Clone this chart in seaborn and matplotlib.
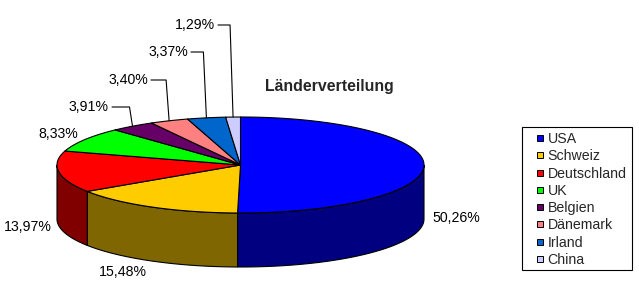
import numpy as np
import matplotlib
matplotlib.use("Agg")
import matplotlib.pyplot as plt
from matplotlib.patches import Polygon, Rectangle
from matplotlib.lines import Line2D
import seaborn as sns

# ---- data ----
countries = ["USA", "Schweiz", "Deutschland", "UK", "Belgien", "Dänemark", "Irland", "China"]
shares = [50.26, 15.48, 13.97, 8.33, 3.91, 3.40, 3.37, 1.29]
top_colors = ["#0000FF", "#FFCC00", "#FF0000", "#00FF00", "#660066", "#FF8080", "#0066CC", "#CCCCFF"]
side_colors = ["#000080", "#806600", "#800000", "#008000", "#330033", "#804040", "#003366", "#666680"]
title = "Länderverteilung"

sns.set_theme(style="white")
plt.rcParams["font.family"] = ["Liberation Sans", "DejaVu Sans"]

# ---- layout (pixel space) ----
W, H = 639, 302
cx, cy, a, b, depth = 240.5, 165.0, 183.5, 48.0, 54.0
fs = 10.2

fig = plt.figure(figsize=(W / 100, H / 100), dpi=100)
fig.patch.set_facecolor("white")
ax = fig.add_axes([0, 0, 1, 1])
ax.set_xlim(0, W)
ax.set_ylim(H, 0)
ax.axis("off")


def pt(theta_deg, dy=0.0):
    t = np.radians(theta_deg)
    return cx + a * np.sin(t), cy - b * np.cos(t) + dy


vals = np.array(shares)
frac = vals / vals.sum()
edges = np.concatenate([[0], np.cumsum(frac)]) * 360.0

# side walls (front half: 90..270 deg)
for i in range(len(vals)):
    t1, t2 = max(edges[i], 90), min(edges[i + 1], 270)
    if t2 <= t1:
        continue
    th = np.linspace(t1, t2, 120)
    upper = [pt(t) for t in th]
    lower = [pt(t, depth) for t in th[::-1]]
    ax.add_patch(Polygon(upper + lower, closed=True, facecolor=side_colors[i],
                         edgecolor="black", lw=0.8, zorder=1))

# top faces
for i in range(len(vals)):
    th = np.linspace(edges[i], edges[i + 1], 200)
    poly = [(cx, cy)] + [pt(t) for t in th]
    ax.add_patch(Polygon(poly, closed=True, facecolor=top_colors[i],
                         edgecolor="black", lw=0.8, zorder=2, joinstyle="round"))

labels = [f"{v:.2f}".replace(".", ",") + "%" for v in shares]

# plain labels (centers)
plain_pos = {0: (456, 218), 1: (123, 272), 2: (28, 227), 3: (58, 134)}
for i, (x, y) in plain_pos.items():
    ax.text(x, y, labels[i], ha="center", va="center", fontsize=fs, color="black", zorder=5)

# labels with leader lines (right edge x, y)
lead_pos = {4: (109, 107), 5: (148, 80), 6: (188, 52), 7: (215, 25)}
for i, (x, y) in lead_pos.items():
    ax.text(x, y, labels[i], ha="right", va="center", fontsize=fs, color="black", zorder=5)
    mid = (edges[i] + edges[i + 1]) / 2
    ex, ey = pt(mid)
    ax.plot([x + 3, ex - 3, ex], [y, y, ey], color="black", lw=0.8, zorder=4)

ax.text(329, 86, title, ha="center", va="center", fontsize=11.4, fontweight="bold", zorder=5)

# legend: frame drawn separately, entries via matplotlib legend
ax.add_patch(Rectangle((522, 127), 110, 143, facecolor="white", edgecolor="black",
                       lw=0.8, zorder=6))
handles = [Line2D([], [], ls="", marker="s", markersize=5.0, markerfacecolor=c,
                  markeredgecolor="black", markeredgewidth=0.7) for c in top_colors]
leg = ax.legend(handles, countries, loc="upper left",
                bbox_to_anchor=(526 / W, 1 - 132 / H), bbox_transform=fig.transFigure,
                frameon=False, handlelength=2.0, handletextpad=-0.47,
                labelspacing=0.23, borderpad=0, borderaxespad=0, fontsize=fs)
leg.set_zorder(7)

fig.savefig("out.png", dpi=100, facecolor="white")
